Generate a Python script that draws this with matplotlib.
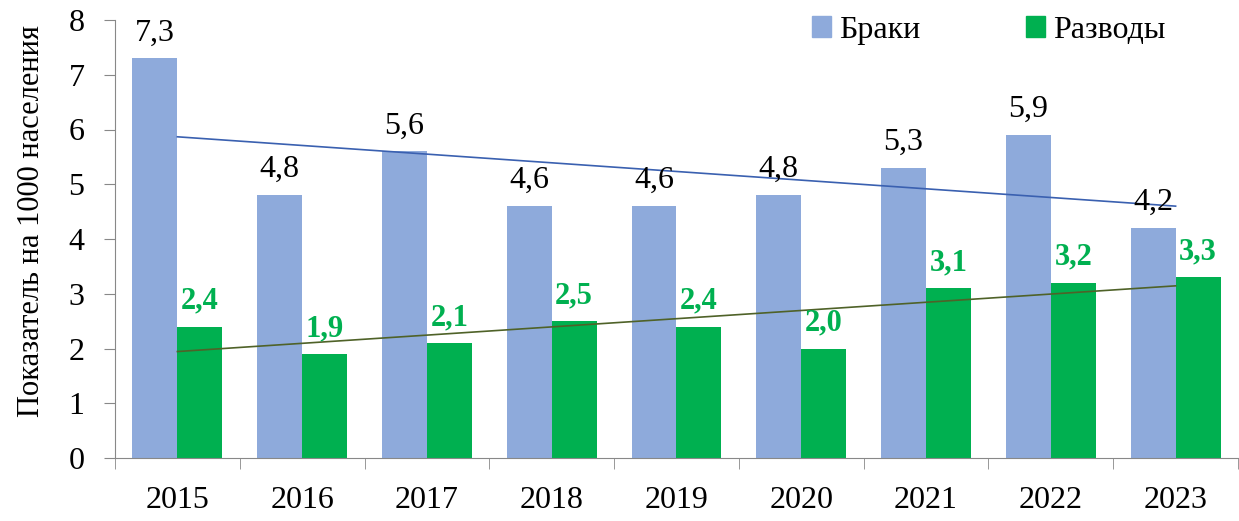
import matplotlib
matplotlib.use("Agg")
import matplotlib.pyplot as plt
import numpy as np
from matplotlib.patches import Patch

years = ["2015", "2016", "2017", "2018", "2019", "2020", "2021", "2022", "2023"]
marriages = [7.3, 4.8, 5.6, 4.6, 4.6, 4.8, 5.3, 5.9, 4.2]
divorces = [2.4, 1.9, 2.1, 2.5, 2.4, 2.0, 3.1, 3.2, 3.3]
series_names = ["Браки", "Разводы"]
ylabel = "Показатель на 1000 населения"

plt.rcParams['font.family'] = ['Liberation Serif', 'DejaVu Serif']

c_blue = '#8EAADB'
c_green = '#00B050'

fig = plt.figure(figsize=(12.39, 5.21), dpi=100)
ax = fig.add_axes([115/1239, 1-458/521, (1238-115)/1239, (458-20)/521])

x = np.arange(len(years))
w = 0.36
ax.bar(x - w/2, marriages, w, color=c_blue, zorder=2)
ax.bar(x + w/2, divorces, w, color=c_green, zorder=2)

for xi, v in zip(x, marriages):
    ax.text(xi - w/2, v + 0.2, f"{v:.1f}".replace('.', ','), ha='center', va='bottom',
            fontsize=23, color='black', zorder=4)
for xi, v in zip(x, divorces):
    ax.text(xi + w/2, v + 0.2, f"{v:.1f}".replace('.', ','), ha='center', va='bottom',
            fontsize=22, color=c_green, fontweight='bold', zorder=4)

# linear trendlines
t = np.arange(1, len(years) + 1)
pm = np.polyfit(t, marriages, 1)
pd_ = np.polyfit(t, divorces, 1)
ax.plot(x, np.polyval(pm, t), color='#3A60B0', lw=1.2, zorder=3)
ax.plot(x, np.polyval(pd_, t), color='#4F6228', lw=1.2, zorder=3)

ax.set_xlim(-0.5, len(years) - 0.5)
ax.set_ylim(0, 8)
ax.set_yticks(range(0, 9))
ax.set_xticks(x)
ax.set_xticklabels(years)
ax.set_xticks(np.arange(-0.5, len(years)), minor=True)
ax.tick_params(axis='x', which='major', length=0, pad=20, labelsize=23)
ax.tick_params(axis='x', which='minor', length=8, color='#888888', direction='out')
ax.tick_params(axis='y', length=8, color='#888888', labelsize=23, pad=14)
for s in ['top', 'right']:
    ax.spines[s].set_visible(False)
for s in ['left', 'bottom']:
    ax.spines[s].set_color('#888888')
ax.set_ylabel(ylabel, fontsize=22)
ax.yaxis.set_label_coords(-0.061, 0.54)

handles = [Patch(color=c_blue), Patch(color=c_green)]
leg = ax.legend(handles, series_names, loc='upper left', bbox_to_anchor=(0.595, 1.075),
                ncol=2, frameon=False, fontsize=23, handlelength=0.6, handleheight=0.6,
                handletextpad=0.25, columnspacing=3.3)

fig.savefig('out.png', dpi=100)
